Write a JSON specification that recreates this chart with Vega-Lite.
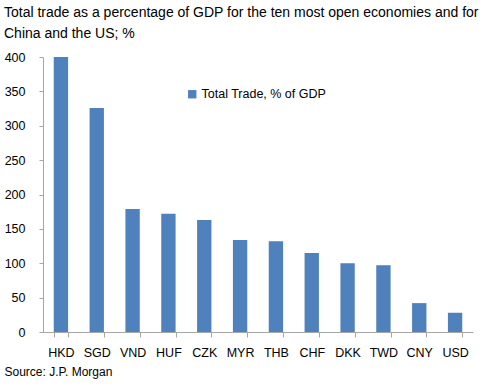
{
  "$schema": "https://vega.github.io/schema/vega-lite/v6.json",
  "width": 430,
  "height": 275,
  "autosize": {"type": "none"},
  "padding": {"left": 43, "top": 57, "right": 15, "bottom": 56},
  "background": "white",
  "title": {
    "text": ["Total trade as a percentage of GDP for the ten most open economies and for", "China and the US; %"],
    "anchor": "start",
    "frame": "group",
    "dx": -39,
    "offset": 10,
    "font": "Liberation Sans",
    "fontSize": 14,
    "fontWeight": "normal",
    "lineHeight": 21,
    "color": "#000000"
  },
  "config": {
    "view": {"stroke": null},
    "font": "Liberation Sans"
  },
  "data": {
    "values": [
      {"currency": "HKD", "value": 400, "series": "Total Trade, % of GDP"},
      {"currency": "SGD", "value": 326, "series": "Total Trade, % of GDP"},
      {"currency": "VND", "value": 179, "series": "Total Trade, % of GDP"},
      {"currency": "HUF", "value": 172, "series": "Total Trade, % of GDP"},
      {"currency": "CZK", "value": 163, "series": "Total Trade, % of GDP"},
      {"currency": "MYR", "value": 134, "series": "Total Trade, % of GDP"},
      {"currency": "THB", "value": 132, "series": "Total Trade, % of GDP"},
      {"currency": "CHF", "value": 115, "series": "Total Trade, % of GDP"},
      {"currency": "DKK", "value": 100, "series": "Total Trade, % of GDP"},
      {"currency": "TWD", "value": 97, "series": "Total Trade, % of GDP"},
      {"currency": "CNY", "value": 42, "series": "Total Trade, % of GDP"},
      {"currency": "USD", "value": 28, "series": "Total Trade, % of GDP"}
    ]
  },
  "mark": {"type": "bar"},
  "encoding": {
    "x": {
      "field": "currency",
      "type": "nominal",
      "sort": null,
      "scale": {"paddingInner": 0.6, "paddingOuter": 0.3},
      "axis": {
        "title": "Source: J.P. Morgan",
        "titleFont": "Liberation Sans",
        "titleFontSize": 12,
        "titleFontWeight": "normal",
        "titleColor": "#000000",
        "titleAnchor": "start",
        "titleAlign": "left",
        "titleBaseline": "alphabetic",
        "titleX": -39,
        "titleY": 43,
        "labelAngle": 0,
        "labelFont": "Liberation Sans",
        "labelFontSize": 12.5,
        "labelColor": "#000000",
        "labelPadding": 9,
        "tickBand": "extent",
        "tickSize": 5,
        "tickColor": "#a6a6a6",
        "domainColor": "#a6a6a6"
      }
    },
    "y": {
      "field": "value",
      "type": "quantitative",
      "scale": {"domain": [0, 400], "nice": false},
      "axis": {
        "title": null,
        "values": [0, 50, 100, 150, 200, 250, 300, 350, 400],
        "grid": false,
        "labelFont": "Liberation Sans",
        "labelFontSize": 12.5,
        "labelColor": "#000000",
        "labelPadding": 14,
        "tickSize": 4,
        "tickColor": "#a6a6a6",
        "domainColor": "#a6a6a6"
      }
    },
    "color": {
      "field": "series",
      "type": "nominal",
      "scale": {"range": ["#4F81BD"]},
      "legend": {
        "title": null,
        "orient": "none",
        "legendX": 143,
        "legendY": 31,
        "symbolType": "square",
        "symbolSize": 70,
        "symbolStrokeWidth": 0,
        "labelFont": "Liberation Sans",
        "labelFontSize": 12.5,
        "labelColor": "#000000",
        "labelOffset": 3
      }
    }
  }
}
